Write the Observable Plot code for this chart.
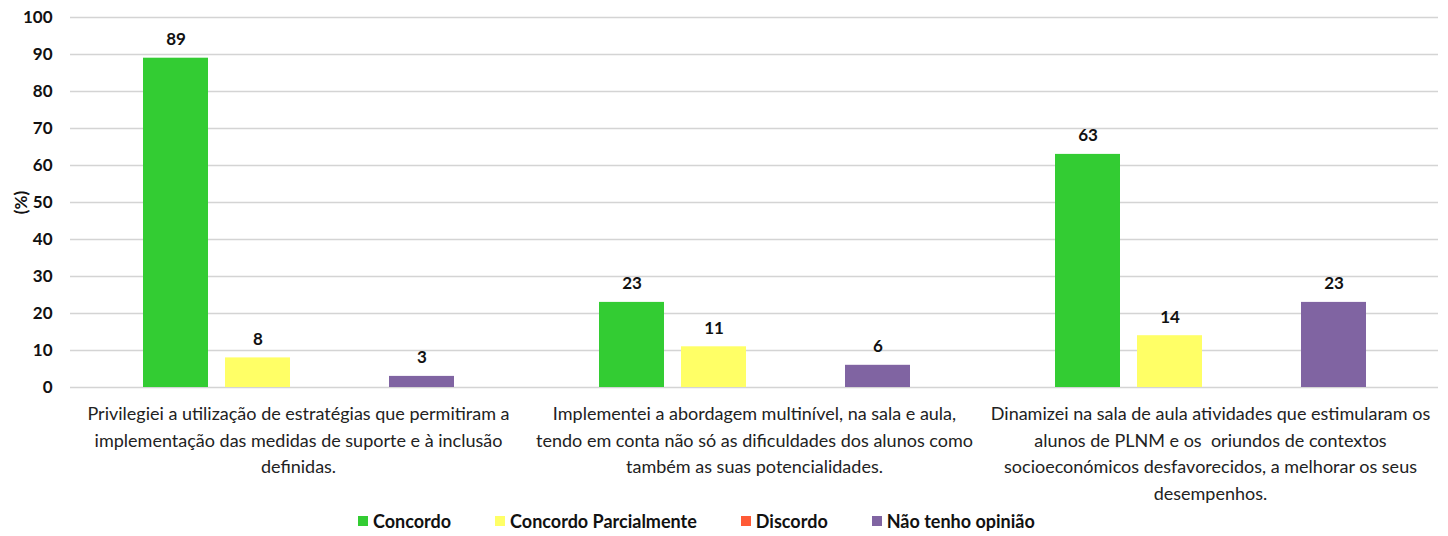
<!DOCTYPE html>
<html><head><meta charset="utf-8">
<script src="https://cdn.jsdelivr.net/npm/d3@7"></script>
<script src="https://cdn.jsdelivr.net/npm/@observablehq/plot@0.6"></script>
<style>
body{margin:0;background:#fff;font-family:Lato,sans-serif;}
#legend{display:flex;gap:44px;padding-left:358px;height:31px;align-items:center;font-weight:bold;font-size:18px;color:#111;}
.item{display:flex;align-items:center;gap:5px;}
.sw{width:10px;height:10px;display:inline-block;}
</style></head><body>
<div id="chart"></div><div id="legend"></div>
<script>
const categories = [
  "Privilegiei a utilização de estratégias que permitiram a implementação das medidas de suporte e à inclusão definidas.",
  "Implementei a abordagem multinível, na sala e aula, tendo em conta não só as dificuldades dos alunos como também as suas potencialidades.",
  "Dinamizei na sala de aula atividades que estimularam os alunos de PLNM e os  oriundos de contextos socioeconómicos desfavorecidos, a melhorar os seus desempenhos."
];
const categoryLines = [
  ["Privilegiei a utilização de estratégias que permitiram a", "implementação das medidas de suporte e à inclusão", "definidas."],
  ["Implementei a abordagem multinível, na sala e aula,", "tendo em conta não só as dificuldades dos alunos como", "também as suas potencialidades."],
  ["Dinamizei na sala de aula atividades que estimularam os", "alunos de PLNM e os  oriundos de contextos", "socioeconómicos desfavorecidos, a melhorar os seus", "desempenhos."]
];
const series = ["Concordo", "Concordo Parcialmente", "Discordo", "Não tenho opinião"];
const colors = ["#33cc33", "#ffff66", "#ff5a36", "#8064a2"];
const concordo = [89, 23, 63];
const concordoParcialmente = [8, 11, 14];
const discordo = [0, 0, 0];
const naoTenhoOpiniao = [3, 6, 23];
const yTicks = [0, 10, 20, 30, 40, 50, 60, 70, 80, 90, 100];

const valuesBySeries = [concordo, concordoParcialmente, discordo, naoTenhoOpiniao];
const data = [];
categories.forEach((c, i) => series.forEach((s, j) => data.push({category: c, series: s, value: valuesBySeries[j][i]})));
const labelRows = categories.map((c, i) => ({category: c, text: categoryLines[i].join("\n")}));

const font = "Lato, sans-serif";
const chart = Plot.plot({
  width: 1448,
  height: 505,
  marginLeft: 70,
  marginRight: 10,
  marginTop: 17,
  marginBottom: 118,
  style: {fontFamily: font, fontSize: "18px", fontWeight: "bold", color: "#111", background: "#fff"},
  fx: {domain: categories, padding: 0, axis: null},
  x: {domain: series, paddingInner: 0.21, paddingOuter: 0.87, axis: null},
  y: {domain: [0, 100], axis: null},
  color: {domain: series, range: colors},
  marks: [
    Plot.gridY(yTicks, {stroke: "#d4d4d4", strokeOpacity: 1, strokeWidth: 1.5}),
    Plot.axisY(yTicks, {tickSize: 0, tickPadding: 18, fontSize: 17, fontWeight: "bold", label: "(%)", labelAnchor: "center", labelArrow: "none", labelOffset: 56}),
    Plot.barY(data, {fx: "category", x: "series", y: "value", fill: "series"}),
    Plot.text(data.filter(d => d.value > 0), {fx: "category", x: "series", y: "value", text: d => String(d.value), lineAnchor: "bottom", dy: -13, fontSize: 17, fontWeight: "bold", fill: "#111"}),
    Plot.text(labelRows, {fx: "category", text: "text", frameAnchor: "bottom", lineAnchor: "top", dy: 14, fontSize: 18, fontWeight: "normal", lineHeight: 1.47, fill: "#222"})
  ]
});
document.getElementById("chart").appendChild(chart);

const legend = document.getElementById("legend");
series.forEach((s, i) => {
  const it = document.createElement("div");
  it.className = "item";
  const sw = document.createElement("span");
  sw.className = "sw";
  sw.style.background = colors[i];
  const t = document.createElement("span");
  t.textContent = s;
  it.appendChild(sw); it.appendChild(t);
  legend.appendChild(it);
});
</script>
</body></html>
